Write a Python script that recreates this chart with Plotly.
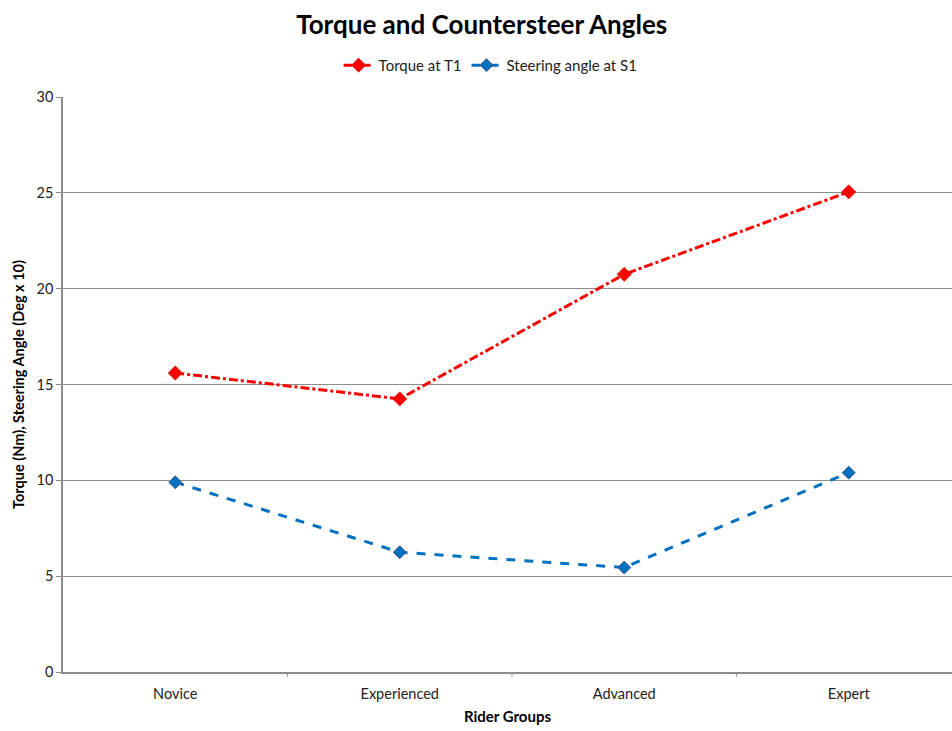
import plotly.graph_objects as go

groups = ["Novice", "Experienced", "Advanced", "Expert"]
torque_t1 = [15.6, 14.25, 20.75, 25.05]
steer_s1 = [9.9, 6.25, 5.45, 10.4]
y_ticks = [0, 5, 10, 15, 20, 25, 30]

FONT = "Lato, 'Open Sans', sans-serif"

fig = go.Figure()
fig.add_trace(go.Scatter(
    x=groups, y=torque_t1, name="Torque at T1", mode="lines+markers",
    line=dict(color="#FF0000", width=3, dash="dashdot"),
    marker=dict(symbol="diamond", size=11, color="#FF0000",
                line=dict(color="#C00000", width=0.5)),
))
fig.add_trace(go.Scatter(
    x=groups, y=steer_s1, name="Steering angle at S1", mode="lines+markers",
    line=dict(color="#0070C0", width=3, dash="dash"),
    marker=dict(symbol="diamond", size=10, color="#0070C0",
                line=dict(color="#4F5B8C", width=1)),
))

fig.update_layout(
    width=952, height=731,
    margin=dict(l=63, r=0, t=97, b=59),
    paper_bgcolor="white", plot_bgcolor="white",
    font=dict(family=FONT, size=14, color="#222222"),
    title=dict(text="<b>Torque and Countersteer Angles</b>",
               x=0.506, xanchor="center", y=0.966, yanchor="middle",
               font=dict(size=26, color="#000000", family=FONT)),
    legend=dict(orientation="h", x=0.481, xanchor="center", y=1.055, yanchor="middle",
                font=dict(size=15, color="#222222"),
                traceorder="normal"),
    showlegend=True,
)
fig.update_xaxes(
    type="category", range=[-0.5, 3.46],
    showline=True, linecolor="#8C8C8C", linewidth=1.5,
    showgrid=False, ticks="", ticklabelstandoff=8,
    tickfont=dict(size=14.5, color="#222222"),
    title=dict(text="<b>Rider Groups</b>", font=dict(size=15, color="#000000"), standoff=10),
)
fig.update_yaxes(
    range=[0, 30], tickvals=y_ticks,
    showline=True, linecolor="#8C8C8C", linewidth=1.5,
    showgrid=True, gridcolor="#8C8C8C", gridwidth=1,
    ticks="outside", ticklen=5, tickcolor="#8C8C8C",
    tickfont=dict(size=14.5, color="#222222"),
    zeroline=False,
    title=dict(text="<b>Torque (Nm), Steering Angle (Deg x 10)</b>",
               font=dict(size=14.5, color="#000000"), standoff=8),
)

# tick marks between categories on the x axis
for b in [0.5, 1.5, 2.5]:
    fig.add_shape(type="line", xref="x", yref="paper", x0=b, x1=b, y0=0, y1=-0.008,
                  line=dict(color="#8C8C8C", width=1))

fig.write_html("out.html")
